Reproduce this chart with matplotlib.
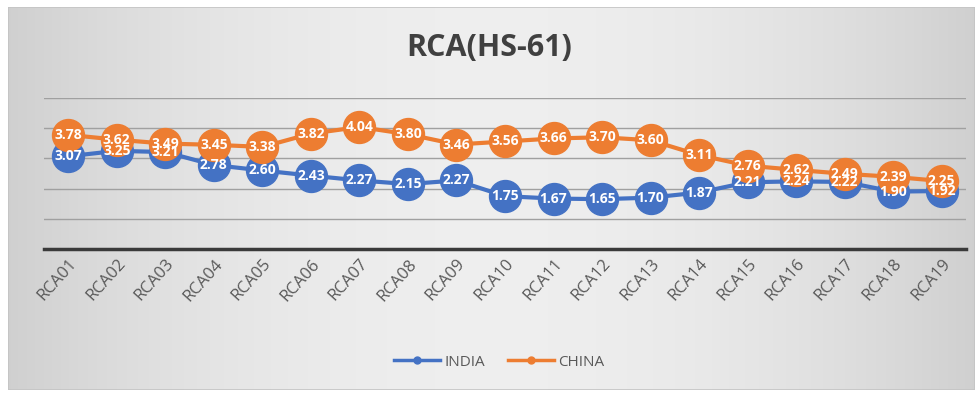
import numpy as np
import matplotlib
matplotlib.use("Agg")
import matplotlib.pyplot as plt
from matplotlib.patches import Rectangle

categories = [f"RCA{i:02d}" for i in range(1, 20)]
india = [3.07, 3.25, 3.21, 2.78, 2.60, 2.43, 2.27, 2.15, 2.27, 1.75,
         1.67, 1.65, 1.70, 1.87, 2.21, 2.24, 2.22, 1.90, 1.92]
china = [3.78, 3.62, 3.49, 3.45, 3.38, 3.82, 4.04, 3.80, 3.46, 3.56,
         3.66, 3.70, 3.60, 3.11, 2.76, 2.62, 2.49, 2.39, 2.25]

BLUE = "#4472C4"
ORANGE = "#ED7D31"
FONT = ["Open Sans", "DejaVu Sans"]

W, H = 979, 394
fig = plt.figure(figsize=(W / 100, H / 100), dpi=100)
fig.patch.set_facecolor("white")

# chart-area background: soft horizontal gradient, darker at the sides
bg = fig.add_axes([8 / W, 1 - 390 / H, (975 - 8) / W, (390 - 7) / H], zorder=-5)
xs = np.linspace(-1, 1, 400)
shade = 0.935 - 0.12 * xs ** 2
img = np.tile(shade, (50, 1))
bg.imshow(np.dstack([img, img, img]), aspect="auto", extent=[0, 1, 0, 1])
bg.add_patch(Rectangle((0, 0), 1, 1, fill=False, edgecolor="#c4c4c4", lw=1.2,
                       transform=bg.transAxes))
bg.set_xlim(0, 1)
bg.set_ylim(0, 1)
bg.axis("off")

ax = fig.add_axes([44 / W, 1 - 249 / H, (966 - 44) / W, (249 - 98) / H])
ax.set_facecolor("none")
x = np.arange(len(categories))

for vals, col in ((india, BLUE), (china, ORANGE)):
    ax.plot(x, vals, color=col, lw=3, marker="o", ms=23, mfc=col, mec=col,
            zorder=3, solid_capstyle="round")
    for xi, v in zip(x, vals):
        ax.text(xi, v, f"{v:.2f}", ha="center", va="center", color="white",
                fontsize=10, fontweight="bold", family=FONT, zorder=4)

ax.set_xlim(-0.5, len(categories) - 0.5)
ax.set_ylim(0, 5)
ax.set_yticks([1, 2, 3, 4, 5])
ax.yaxis.grid(True, color="#a0a0a0", lw=1)
ax.tick_params(axis="y", left=False, labelleft=False)
ax.set_axisbelow(True)
for s in ("top", "right", "left"):
    ax.spines[s].set_visible(False)
ax.spines["bottom"].set_color("#3a3a3a")
ax.spines["bottom"].set_linewidth(2.5)

ax.set_xticks(x)
ax.set_xticklabels(categories, rotation=48, ha="right", va="top",
                   rotation_mode="anchor", color="#595959", fontsize=12,
                   family=FONT)
ax.tick_params(axis="x", length=0, pad=5)

fig.text(0.5, 1 - 48 / H, "RCA(HS-61)", ha="center", va="center",
         fontsize=22, fontweight="bold", color="#404040", family=FONT)

handles = [plt.Line2D([], [], color=BLUE, lw=2.5, marker="o", ms=5),
           plt.Line2D([], [], color=ORANGE, lw=2.5, marker="o", ms=5)]
fig.legend(handles, ["INDIA", "CHINA"], loc="center",
           bbox_to_anchor=(0.51, 1 - 362 / H), ncol=2, frameon=False,
           handlelength=3, columnspacing=1.5, handletextpad=0.3,
           prop={"family": FONT, "size": 11}, labelcolor="#595959")

fig.savefig("out.png", dpi=100)
